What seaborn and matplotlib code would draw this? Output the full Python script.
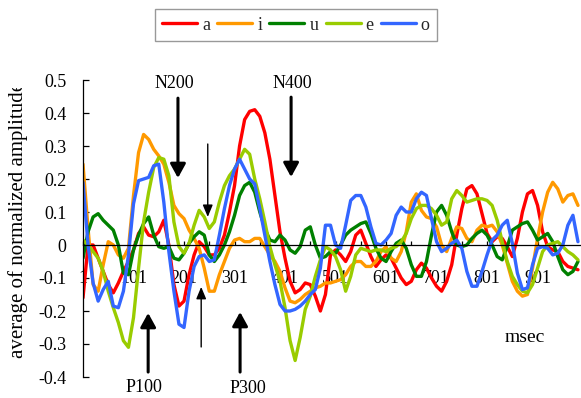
import numpy as np
import pandas as pd
import matplotlib
matplotlib.use("Agg")
import matplotlib.pyplot as plt
import seaborn as sns
from matplotlib.transforms import Bbox

# sample positions (msec) and one amplitude series per vowel
msec = np.arange(1, 991, 10)
vowels = ["a", "i", "u", "e", "o"]
colors = ["#FF0000", "#FF9900", "#008000", "#99CC00", "#3366FF"]

amp_a = [-0.16, 0.0, 0.0, -0.04, -0.08, -0.12, -0.145, -0.115, -0.08, -0.05,
         -0.015, 0.035, 0.055, 0.03, 0.025, 0.04, 0.075, 0.0, -0.12, -0.185,
         -0.17, -0.09, -0.03, 0.01, -0.005, -0.03, -0.03, -0.01, 0.03, 0.1,
         0.18, 0.3, 0.38, 0.405, 0.41, 0.39, 0.34, 0.26, 0.15, 0.04,
         -0.04, -0.11, -0.145, -0.135, -0.115, -0.12, -0.155, -0.2, -0.15, -0.03,
         -0.015, -0.03, -0.05, -0.02, 0.03, 0.045, 0.005, -0.035, -0.065, -0.045,
         -0.03, -0.04, -0.07, -0.1, -0.12, -0.11, -0.075, -0.055, -0.07, -0.1,
         -0.125, -0.14, -0.11, -0.06, 0.03, 0.11, 0.17, 0.18, 0.155, 0.095,
         0.035, 0.01, 0.025, 0.02, -0.005, -0.035, 0.02, 0.1, 0.155, 0.165,
         0.12, 0.04, -0.005, -0.015, -0.02, -0.05, -0.065, -0.07, -0.075]

amp_i = [0.245, 0.05, -0.12, -0.14, -0.06, 0.01, 0.0, -0.03, -0.04, -0.01,
         0.15, 0.28, 0.335, 0.32, 0.29, 0.27, 0.245, 0.19, 0.12, 0.095,
         0.08, 0.045, 0.02, -0.01, -0.07, -0.14, -0.14, -0.09, -0.05, -0.01,
         0.015, 0.02, 0.01, 0.01, 0.02, 0.02, -0.005, -0.03, -0.05, -0.08,
         -0.13, -0.17, -0.175, -0.165, -0.15, -0.14, -0.13, -0.125, -0.115, -0.115,
         -0.11, -0.105, -0.09, -0.065, -0.05, -0.05, -0.065, -0.065, -0.05, -0.02,
         -0.005, -0.04, -0.05, -0.02, 0.04, 0.13, 0.155, 0.105, 0.085, 0.08,
         0.055, 0.0, -0.02, 0.02, 0.055, 0.05, 0.02, 0.01, 0.045, 0.06,
         0.055, 0.06, 0.04, 0.0, -0.055, -0.11, -0.14, -0.155, -0.15, -0.07,
         0.02, 0.1, 0.16, 0.19, 0.17, 0.13, 0.15, 0.155, 0.12]

amp_u = [-0.04, 0.04, 0.085, 0.095, 0.075, 0.06, 0.045, 0.0, -0.085, -0.09,
         -0.015, 0.03, 0.065, 0.085, 0.03, -0.005, -0.01, -0.005, -0.04, -0.045,
         -0.025, 0.005, 0.025, 0.04, 0.03, -0.03, -0.05, -0.03, 0.0, 0.04,
         0.09, 0.15, 0.18, 0.19, 0.16, 0.1, 0.05, 0.015, 0.01, 0.03,
         0.015, -0.015, -0.025, -0.005, 0.045, 0.055, 0.0, -0.04, -0.035, -0.02,
         -0.025, 0.0, 0.03, 0.045, 0.055, 0.065, 0.07, 0.035, -0.01, -0.04,
         -0.05, -0.02, 0.005, 0.015, -0.01, -0.06, -0.095, -0.095, -0.05, 0.03,
         0.1, 0.12, 0.09, 0.04, 0.0, -0.005, 0.0, 0.02, 0.035, 0.045,
         0.03, 0.0, -0.035, -0.045, -0.005, 0.045, 0.055, 0.065, 0.07, 0.045,
         0.015, 0.025, 0.035, 0.01, -0.035, -0.075, -0.09, -0.08, -0.05]

amp_e = [0.015, 0.0, -0.02, -0.04, -0.08, -0.14, -0.19, -0.235, -0.29, -0.31,
         -0.22, -0.07, 0.07, 0.16, 0.235, 0.265, 0.26, 0.21, 0.07, -0.005,
         -0.025, 0.005, 0.06, 0.105, 0.085, 0.05, 0.07, 0.13, 0.18, 0.21,
         0.23, 0.26, 0.29, 0.275, 0.2, 0.14, 0.07, -0.005, -0.06, -0.11,
         -0.19, -0.29, -0.35, -0.28, -0.195, -0.155, -0.095, -0.045, -0.005, -0.015,
         -0.035, -0.075, -0.14, -0.095, -0.03, -0.01, -0.015, -0.02, -0.015, -0.015,
         -0.02, -0.01, -0.005, 0.01, 0.035, 0.08, 0.11, 0.12, 0.12, 0.11,
         0.09, 0.06, 0.07, 0.14, 0.165, 0.15, 0.13, 0.135, 0.14, 0.14,
         0.135, 0.12, 0.075, 0.01, -0.05, -0.095, -0.12, -0.14, -0.145, -0.12,
         -0.07, -0.02, 0.0, 0.005, 0.01, -0.005, -0.02, -0.03, -0.045]

amp_o = [0.19, 0.0, -0.115, -0.17, -0.135, -0.11, -0.185, -0.19, -0.14, -0.03,
         0.125, 0.195, 0.2, 0.205, 0.24, 0.245, 0.13, -0.02, -0.14, -0.24,
         -0.25, -0.14, -0.065, -0.035, -0.03, -0.05, -0.045, 0.03, 0.11, 0.18,
         0.23, 0.26, 0.23, 0.2, 0.185, 0.11, 0.03, -0.05, -0.12, -0.18,
         -0.2, -0.2, -0.195, -0.185, -0.17, -0.15, -0.135, -0.07, 0.06, 0.06,
         0.0, -0.01, 0.06, 0.135, 0.15, 0.15, 0.115, 0.055, 0.005, 0.0,
         0.015, 0.035, 0.09, 0.115, 0.1, 0.1, 0.14, 0.16, 0.15, 0.08,
         0.01, -0.02, -0.01, 0.005, 0.015, -0.01, -0.08, -0.125, -0.125, -0.08,
         -0.03, 0.015, 0.03, 0.06, 0.075, 0.005, -0.085, -0.135, -0.13, -0.06,
         -0.01, -0.005, -0.01, -0.03, -0.025, 0.0, 0.06, 0.09, 0.01]

sns.set_theme(style="white")
plt.rcParams["font.family"] = ["Liberation Serif", "DejaVu Serif"]

series = [amp_a, amp_i, amp_u, amp_e, amp_o]
df = pd.concat(
    [pd.DataFrame({"msec": msec, "amp": vals, "vowel": v}) for v, vals in zip(vowels, series)],
    ignore_index=True,
)

W, H = 581, 398
fig = plt.figure(figsize=(W / 100, H / 100), dpi=100)
ax = fig.add_axes([83 / W, 21 / H, 497 / W, 297 / H])

sns.lineplot(data=df, x="msec", y="amp", hue="vowel", hue_order=vowels,
             palette=dict(zip(vowels, colors)), linewidth=2.4,
             estimator=None, sort=False, ax=ax)

ax.set_xlim(1, 985)
ax.set_ylim(-0.4, 0.5)
ax.set_xlabel("")
ax.set_ylabel("")

# axes look: y axis at left, x axis crossing at zero
for side in ["top", "right"]:
    ax.spines[side].set_visible(False)
ax.spines["left"].set_color("black")
ax.spines["left"].set_linewidth(0.9)
ax.spines["bottom"].set_position(("data", 0))
ax.spines["bottom"].set_color("black")
ax.spines["bottom"].set_linewidth(0.9)

ax.set_xticks(np.arange(1, 902, 100))
ax.set_xticklabels([str(v) for v in range(1, 902, 100)])
ax.set_xticks(np.arange(51, 985, 100), minor=True)
yt = np.round(np.arange(-0.4, 0.51, 0.1), 1)
ax.set_yticks(yt)
ax.set_yticklabels(["0" if v == 0 else f"{v:.1f}" for v in yt])
ax.tick_params(axis="x", which="both", direction="in", length=3, width=0.9,
               color="black", pad=18, labelsize=13, labelcolor="black")
ax.tick_params(axis="y", direction="in", length=4, width=0.9,
               color="black", pad=12, labelsize=13, labelcolor="black")
ax.tick_params(which="both", bottom=True, left=True)

handles, labels = ax.get_legend_handles_labels()
ax.get_legend().remove()
for h in handles:
    h.set_linewidth(2.4)
leg = fig.legend(handles, labels, loc="center", bbox_to_anchor=(296 / W, 1 - 25 / H),
                 ncol=5, fontsize=13, frameon=True, fancybox=False, shadow=False,
                 handlelength=1.94, handletextpad=0.28, columnspacing=0.39,
                 borderpad=0.4, borderaxespad=0)
leg.get_frame().set_edgecolor("#808080")
leg.get_frame().set_linewidth(1.0)

# y axis title, cut off at the top like the original
ylab = fig.text(18 / W, 1 - 358 / H, "average of normalized amplitude",
                rotation=90, ha="center", va="bottom", fontsize=15, color="black")
ylab.set_clip_box(Bbox.from_extents(0, 0, W, H - 88))
ylab.set_clip_on(True)

ax.text(875, -0.294, "msec", ha="center", va="baseline", fontsize=14, color="black")

# component markers
thick = dict(arrowstyle="-|>,head_length=0.4,head_width=0.22", color="black",
             lw=2.2, mutation_scale=21, shrinkA=0, shrinkB=0)
thin = dict(arrowstyle="-|>,head_length=0.6,head_width=0.25", color="black",
            lw=1.0, mutation_scale=12, shrinkA=0, shrinkB=0)

ax.annotate("", xy=(189, 0.203), xytext=(189, 0.445), arrowprops=thick, annotation_clip=False)
ax.annotate("", xy=(413, 0.206), xytext=(413, 0.448), arrowprops=thick, annotation_clip=False)
ax.annotate("", xy=(248, 0.085), xytext=(248, 0.306), arrowprops=thin, annotation_clip=False)
ax.annotate("", xy=(130, -0.206), xytext=(130, -0.385), arrowprops=thick, annotation_clip=False)
ax.annotate("", xy=(235, -0.127), xytext=(235, -0.309), arrowprops=thin, annotation_clip=False)
ax.annotate("", xy=(312, -0.203), xytext=(312, -0.385), arrowprops=thick, annotation_clip=False)

ax.text(181, 0.477, "N200", ha="center", va="baseline", fontsize=13, color="black")
ax.text(415, 0.477, "N400", ha="center", va="baseline", fontsize=13, color="black")
ax.text(122, -0.445, "P100", ha="center", va="baseline", fontsize=13, color="black")
ax.text(328, -0.448, "P300", ha="center", va="baseline", fontsize=13, color="black")

fig.savefig("out.png", dpi=100)
